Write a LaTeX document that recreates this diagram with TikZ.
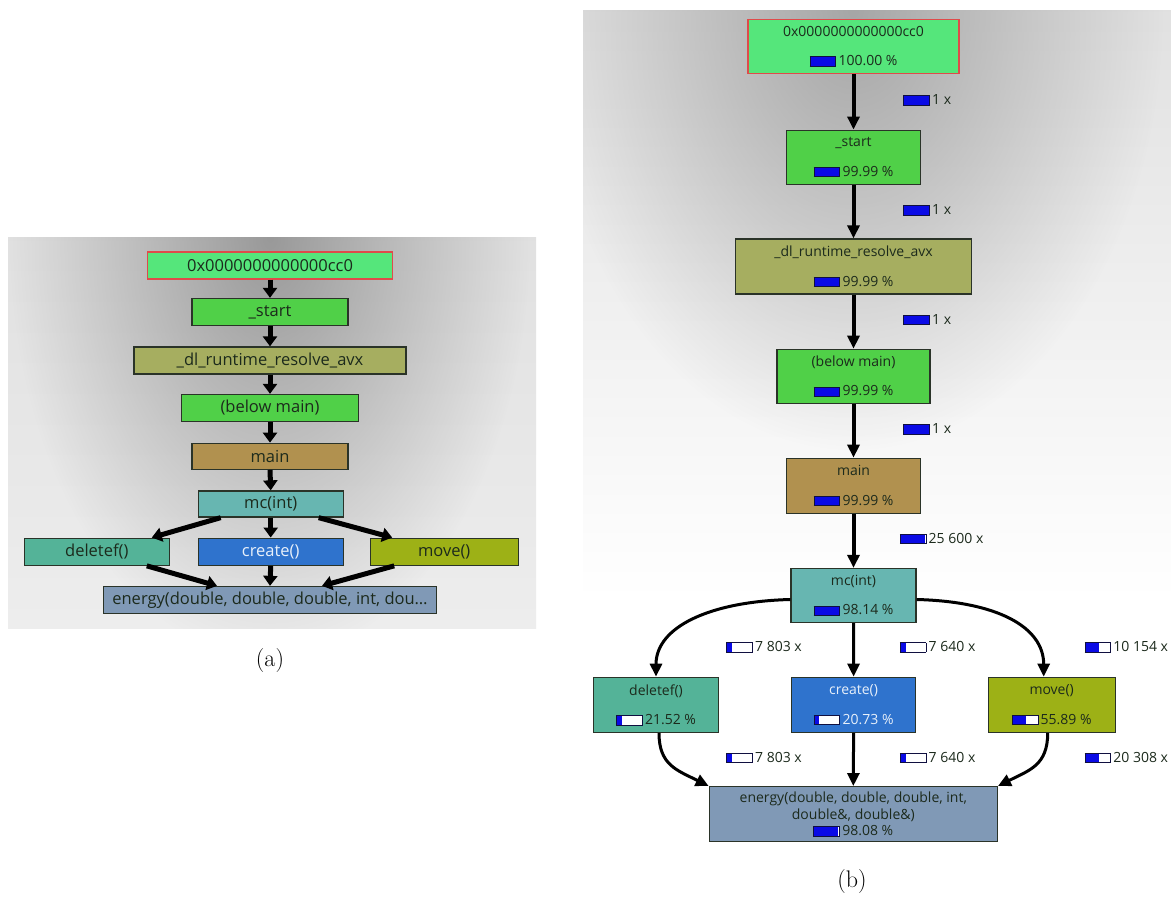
\documentclass[tikz,border=0pt]{standalone}
\usepackage{fontspec}
\newfontfamily\gf{Open Sans}
\usetikzlibrary{arrows.meta,calc,fadings}
\definecolor{cTop}{HTML}{55E67B}
\definecolor{cGreen}{HTML}{50D048}
\definecolor{cOlive}{HTML}{A6AE60}
\definecolor{cMain}{HTML}{B1914F}
\definecolor{cMc}{HTML}{67B6B1}
\definecolor{cDel}{HTML}{54B398}
\definecolor{cCreate}{HTML}{2F73CD}
\definecolor{cMove}{HTML}{9DB116}
\definecolor{cEnergy}{HTML}{8099B6}
\definecolor{txt}{HTML}{1C2A1C}
\definecolor{txtlight}{HTML}{E8F0FA}
\definecolor{bord}{HTML}{2A3328}
\definecolor{redbord}{HTML}{E04A4A}
\definecolor{barblue}{HTML}{0A0AE6}
\definecolor{barframe}{HTML}{101040}
\tikzfading[name=spot, inner color=transparent!0, outer color=transparent!100]
\newlength\pbarw \setlength\pbarw{25pt}
\newcommand\pbar[1]{{\setlength\fboxsep{0pt}\setlength\fboxrule{0.8pt}\fcolorbox{barframe}{white}{\color{barblue}\rule{#1\pbarw}{8.5pt}\hspace*{\dimexpr\pbarw-#1\pbarw\relax}}}}
\newcommand\afont{\gf\fontsize{16.5}{19}\selectfont}
\newcommand\bfont{\gf\fontsize{14}{16.5}\selectfont}
\tikzset{
 an/.style={draw=bord, line width=1.3pt, minimum height=27pt, inner sep=0pt, font=\afont, text=txt},
 bn/.style={draw=bord, line width=1.3pt, minimum height=54pt, inner sep=0pt, font=\bfont, text=txt, align=center},
 aarr/.style={line width=5pt, -{Triangle[length=10pt,width=14pt]}},
 barr/.style={line width=4pt, -{Triangle[length=13pt,width=12pt]}},
 carr/.style={line width=3pt, -{Triangle[length=13pt,width=12pt]}},
 elab/.style={anchor=west, inner sep=0pt, font=\bfont, text=txt},
 captext/.style={font=\fontsize{24}{28}\selectfont}
}
\begin{document}
\begin{tikzpicture}[x=1pt,y=-1pt]
\useasboundingbox (0,0) rectangle (1171,902);
\fill[white] (0,0) rectangle (1171,902);
% ---------- panel (a) background
\begin{scope}
\clip (8,237) rectangle (536,628);
\shade[top color=black!12, bottom color=black!7] (8,237) rectangle (536,628);
\fill[black!40, path fading=spot] (270,237) ellipse [x radius=260, y radius=420];
\end{scope}
% ---------- panel (b) background
\begin{scope}
\clip (583,10) rectangle (1171,880);
\shade[top color=black!12, bottom color=white] (583,10) rectangle (1171,600);
\fill[black!35, path fading=spot] (853,10) ellipse [x radius=310, y radius=440];
\end{scope}
% ---------- panel (a) nodes
\node[an, fill=cTop, draw=redbord, minimum width=245pt] (a0) at (270,265.5) {0x0000000000000cc0};
\node[an, fill=cGreen, minimum width=156pt] (a1) at (270,312) {\_start};
\node[an, fill=cOlive, minimum width=272pt] (a2) at (270,360.5) {\_dl\_runtime\_resolve\_avx};
\node[an, fill=cGreen, minimum width=177pt] (a3) at (270,408) {(below main)};
\node[an, fill=cMain, minimum width=156pt, minimum height=26pt] (a4) at (270,456.3) {main};
\node[an, fill=cMc, minimum width=145pt, minimum height=26pt] (a5) at (270.7,504) {mc(int)};
\node[an, fill=cDel, minimum width=145pt] (a6) at (96.8,551.7) {deletef()};
\node[an, fill=cCreate, text=txtlight, minimum width=145pt] (a7) at (270.7,551.7) {create()};
\node[an, fill=cMove, minimum width=148pt] (a8) at (444.2,551.7) {move()};
\node[an, fill=cEnergy, minimum width=333pt] (a9) at (270,600) {energy(double, double, double, int, dou…};
% ---------- panel (a) edges
\draw[aarr] (a0.south) -- (a1.north);
\draw[aarr] (a1.south) -- (a2.north);
\draw[aarr] (a2.south) -- (a3.north);
\draw[aarr] (a3.south) -- (a4.north);
\draw[aarr] (a4.south) -- (a5.north);
\draw[aarr] ($(a5.south)+(-50,0)$) -- ($(a6.north)+(55,0)$);
\draw[aarr] (a5.south) -- (a7.north);
\draw[aarr] ($(a5.south)+(48,0)$) -- ($(a8.north)+(-52,0)$);
\draw[aarr] ($(a6.south)+(50,0)$) -- ($(a9.north)+(-53,0)$);
\draw[aarr] (a7.south) -- (a9.north);
\draw[aarr] ($(a8.south)+(-50,0)$) -- ($(a9.north)+(52,0)$);
\node[captext] (capa) at (270,661) {(a)};
% ---------- panel (b) nodes
\node[bn, fill=cTop, draw=redbord, minimum width=211pt] (b0) at (853.5,46.3) {0x0000000000000cc0\\[13pt]\pbar{1}\,100.00 \%};
\node[bn, fill=cGreen, minimum width=134.5pt] (b1) at (853.5,157.2) {\_start\\[13pt]\pbar{1}\,99.99 \%};
\node[bn, fill=cOlive, minimum width=235.6pt, minimum height=55pt] (b2) at (853.5,266.5) {\_dl\_runtime\_resolve\_avx\\[13pt]\pbar{1}\,99.99 \%};
\node[bn, fill=cGreen, minimum width=153pt] (b3) at (853.5,376.3) {(below main)\\[13pt]\pbar{1}\,99.99 \%};
\node[bn, fill=cMain, minimum width=134pt, minimum height=55pt] (b4) at (853.5,485.8) {main\\[13pt]\pbar{1}\,99.99 \%};
\node[bn, fill=cMc, minimum width=125pt] (b5) at (853.5,595.5) {mc(int)\\[13pt]\pbar{0.97}\,98.14 \%};
\node[bn, fill=cDel, minimum width=125.5pt, minimum height=55pt] (b6) at (656,704.8) {deletef()\\[13pt]\pbar{0.22}\,21.52 \%};
\node[bn, fill=cCreate, text=txtlight, minimum width=123.7pt, minimum height=55pt] (b7) at (853.6,704.8) {create()\\[13pt]\pbar{0.2}\,20.73 \%};
\node[bn, fill=cMove, minimum width=127pt, minimum height=55pt] (b8) at (1051.7,704.8) {move()\\[13pt]\pbar{0.55}\,55.89 \%};
\node[bn, fill=cEnergy, minimum width=288pt, minimum height=55pt] (b9) at (853.3,814.2) {energy(double, double, double, int,\\double\&, double\&)\\\pbar{0.97}\,98.08 \%};
% ---------- panel (b) edges
\draw[barr] (b0.south) -- (b1.north);
\draw[barr] (b1.south) -- (b2.north);
\draw[barr] (b2.south) -- (b3.north);
\draw[barr] (b3.south) -- (b4.north);
\draw[barr] (b4.south) -- (b5.north);
\draw[carr] ($(b5.west)+(0,4)$) .. controls +(-80,2) and +(0,-50) .. (b6.north);
\draw[carr] (b5.south) -- (b7.north);
\draw[carr] ($(b5.east)+(0,4)$) .. controls +(80,2) and +(0,-50) .. ($(b8.north)+(-8,0)$);
\draw[carr] ($(b6.south)+(3,0)$) .. controls +(0,32) and +(-32,-16) .. (b9.north west);
\draw[carr] (b7.south) -- (b9.north);
\draw[carr] ($(b8.south)+(-4,0)$) .. controls +(0,32) and +(32,-16) .. (b9.north east);
% ---------- panel (b) edge labels
\node[elab] (l1) at (903,100) {\pbar{1}\,1 x};
\node[elab] (l2) at (903,210) {\pbar{1}\,1 x};
\node[elab] (l3) at (903,319.5) {\pbar{1}\,1 x};
\node[elab] (l4) at (903,429) {\pbar{1}\,1 x};
\node[elab] (l5) at (899.6,538.5) {\pbar{0.97}\,25 600 x};
\node[elab] (l6) at (726,647) {\pbar{0.2}\,7 803 x};
\node[elab] (l7) at (899.6,647) {\pbar{0.2}\,7 640 x};
\node[elab] (l8) at (1084.3,647) {\pbar{0.55}\,10 154 x};
\node[elab] (l9) at (726,757.5) {\pbar{0.2}\,7 803 x};
\node[elab] (l10) at (899.6,757.5) {\pbar{0.2}\,7 640 x};
\node[elab] (l11) at (1084.3,757.5) {\pbar{0.55}\,20 308 x};
\node[captext] (capb) at (852,882) {(b)};
\end{tikzpicture}
\end{document}
